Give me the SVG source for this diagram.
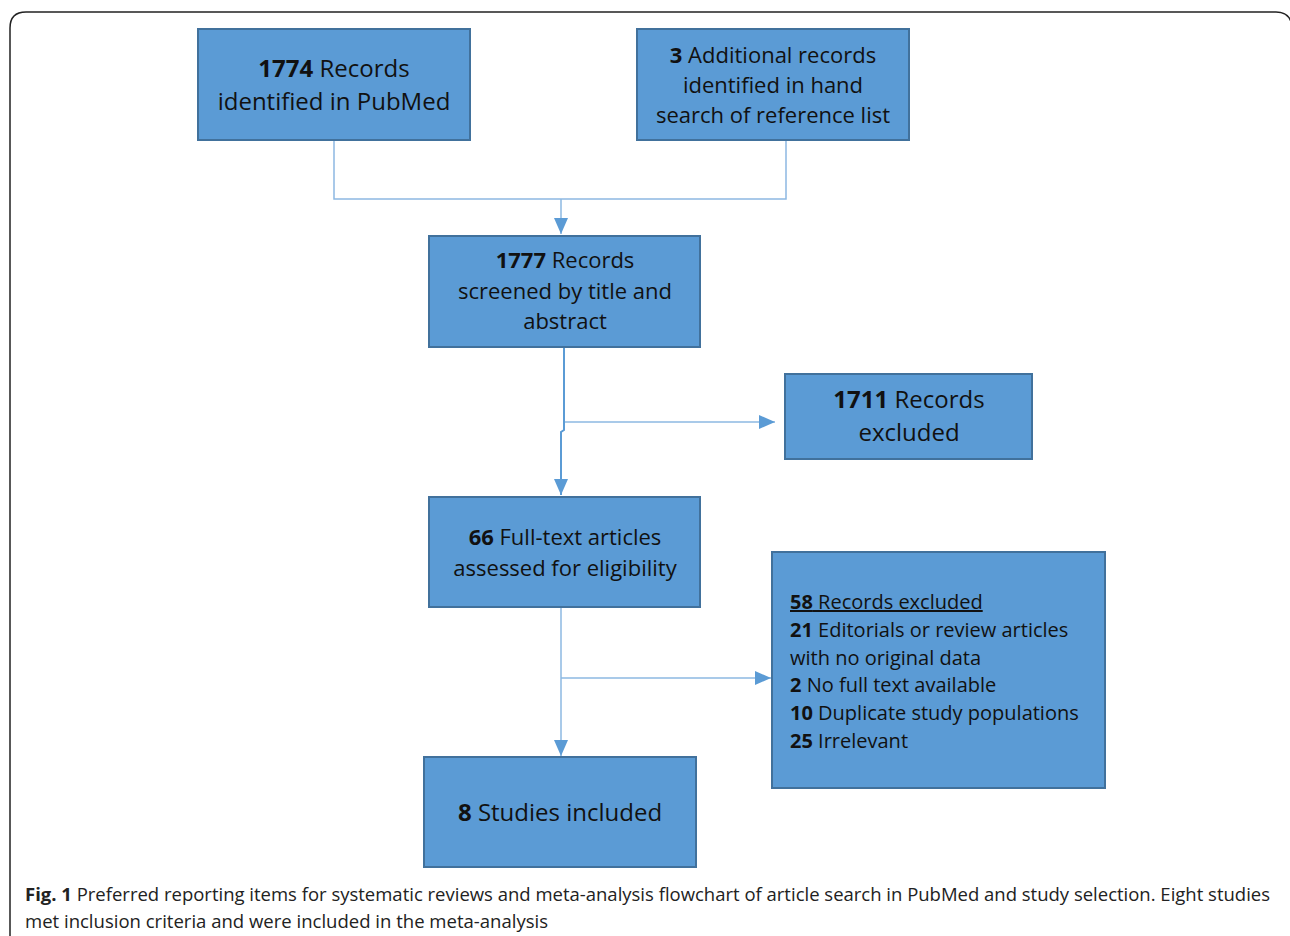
<svg xmlns="http://www.w3.org/2000/svg" width="1290" height="936" viewBox="0 0 1290 936">
<defs>
<style>
.box{fill:#5B9BD5;stroke:#41719C;stroke-width:2}
.t{font-family:"Open Sans","Noto Sans",sans-serif;font-size:22px;fill:#111;text-anchor:middle}
.tl{font-size:24px}
.l{font-family:"Open Sans","Noto Sans",sans-serif;font-size:20px;fill:#111}
.b{font-weight:bold}
.thin{stroke:#8DB8E2;stroke-width:1.5;fill:none}
.thick{stroke:#5B9BD5;stroke-width:2;fill:none}
.cap{font-family:"Open Sans","Noto Sans",sans-serif;font-size:18px;fill:#222}
</style>
<marker id="ah2" markerWidth="16" markerHeight="14" refX="16" refY="7" orient="auto" markerUnits="userSpaceOnUse" viewBox="0 0 16 14">
<path d="M0,0 L16,7 L0,14 Z" fill="#5B9BD5"/>
</marker>
</defs>
<rect width="1290" height="936" fill="#fff"/>
<path d="M10,940 L10,28 Q10,12 26,12 L1276,12 Q1290,12 1292,26" fill="none" stroke="#222" stroke-width="1.5"/>
<g id="connectors">
<path class="thin" d="M334,141 V199 H786 V141"/>
<path class="thin" d="M561,199 V234" marker-end="url(#ah2)"/>
<path class="thick" d="M564,348 V430 L561,432 V495" marker-end="url(#ah2)"/>
<path class="thin" d="M565,422 H775" marker-end="url(#ah2)"/>
<path class="thin" d="M561,608 V756" marker-end="url(#ah2)"/>
<path class="thin" d="M561,678 H771" marker-end="url(#ah2)"/>
</g>
<g id="n1">
<rect class="box" x="198" y="29" width="272" height="111"/>
<text class="t tl" x="334" y="77"><tspan class="b">1774</tspan> Records</text>
<text class="t tl" x="334" y="110">identified in PubMed</text>
</g>
<g id="n2">
<rect class="box" x="637" y="29" width="272" height="111"/>
<text class="t" x="773" y="63"><tspan class="b">3</tspan> Additional records</text>
<text class="t" x="773" y="93">identified in hand</text>
<text class="t" x="773" y="123">search of reference list</text>
</g>
<g id="n3">
<rect class="box" x="429" y="236" width="271" height="111"/>
<text class="t" x="565" y="268"><tspan class="b">1777</tspan> Records</text>
<text class="t" x="565" y="299">screened by title and</text>
<text class="t" x="565" y="329">abstract</text>
</g>
<g id="n4">
<rect class="box" x="785" y="374" width="247" height="85"/>
<text class="t tl" x="909" y="408"><tspan class="b">1711</tspan> Records</text>
<text class="t tl" x="909" y="441">excluded</text>
</g>
<g id="n5">
<rect class="box" x="429" y="497" width="271" height="110"/>
<text class="t" x="565" y="545"><tspan class="b">66</tspan> Full-text articles</text>
<text class="t" x="565" y="576">assessed for eligibility</text>
</g>
<g id="n6">
<rect class="box" x="772" y="552" width="333" height="236"/>
<text class="l" x="790" y="609" text-decoration="underline"><tspan class="b">58</tspan> Records excluded</text>
<text class="l" x="790" y="637"><tspan class="b">21</tspan> Editorials or review articles</text>
<text class="l" x="790" y="665">with no original data</text>
<text class="l" x="790" y="692"><tspan class="b">2</tspan> No full text available</text>
<text class="l" x="790" y="720"><tspan class="b">10</tspan> Duplicate study populations</text>
<text class="l" x="790" y="748"><tspan class="b">25</tspan> Irrelevant</text>
</g>
<g id="n7">
<rect class="box" x="424" y="757" width="272" height="110"/>
<text class="t tl" x="560" y="821"><tspan class="b">8</tspan> Studies included</text>
</g>
<g id="caption">
<text class="cap" x="25" y="901" textLength="1245" lengthAdjust="spacingAndGlyphs"><tspan class="b">Fig. 1</tspan> Preferred reporting items for systematic reviews and meta-analysis flowchart of article search in PubMed and study selection. Eight studies</text>
<text class="cap" x="25" y="928" textLength="523" lengthAdjust="spacingAndGlyphs">met inclusion criteria and were included in the meta-analysis</text>
</g>
</svg>
